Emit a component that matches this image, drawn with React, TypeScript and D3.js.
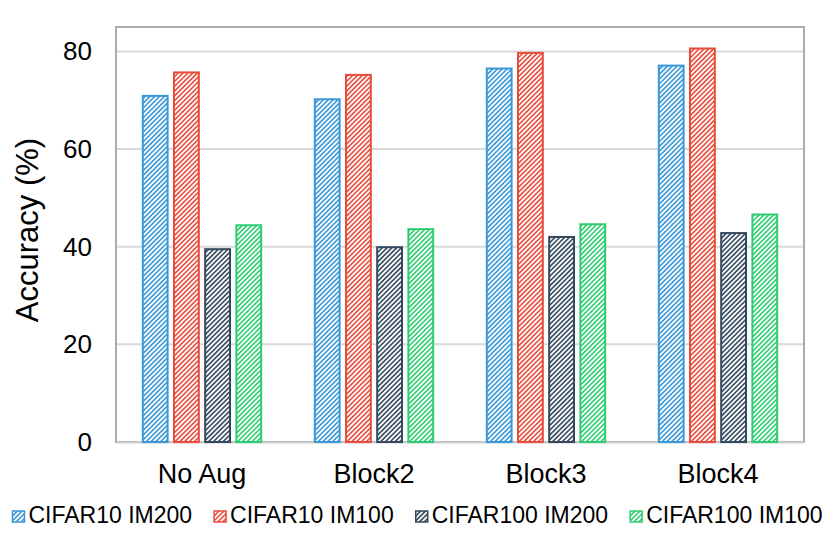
import * as d3 from "d3";
import { useRef, useEffect } from "react";

const categories = ["No Aug", "Block2", "Block3", "Block4"];
const seriesNames = ["CIFAR10 IM200", "CIFAR10 IM100", "CIFAR100 IM200", "CIFAR100 IM100"];
const seriesColors = ["#3a97d8", "#e74c3c", "#34495e", "#2ecc71"];
const cifar10im200 = [71.1, 70.4, 76.7, 77.3];
const cifar10im100 = [75.9, 75.4, 79.9, 80.8];
const cifar100im200 = [39.7, 40.1, 42.2, 43.0];
const cifar100im100 = [44.6, 43.8, 44.8, 46.8];
const yTicks = [0, 20, 40, 60, 80];

export default function App({
  width = 830,
  height = 535,
  marginTop = 27,
  marginRight = 26,
  marginBottom = 93,
  marginLeft = 116,
}) {
  const svgRef = useRef(null);

  useEffect(() => {
    const svg = d3.select(svgRef.current);
    svg.selectAll("*").remove();
    svg.attr("width", width).attr("height", height).attr("viewBox", [0, 0, width, height]);

    const font = "'Liberation Sans', Arial, sans-serif";
    const values = [cifar10im200, cifar10im100, cifar100im200, cifar100im100];
    const rows = categories.map((c, i) => ({ cat: c, vals: values.map(v => v[i]) }));

    const x0 = d3.scaleBand()
      .domain(categories)
      .range([marginLeft, width - marginRight])
      .paddingInner(0.3)
      .paddingOuter(0.15);

    const x1 = d3.scaleBand()
      .domain(d3.range(seriesNames.length))
      .range([0, x0.bandwidth()])
      .paddingInner(0.14);

    const y = d3.scaleLinear()
      .domain([0, 85])
      .range([height - marginBottom, marginTop]);

    // hatch patterns (wide upward diagonal)
    const defs = svg.append("defs");
    seriesColors.forEach((c, i) => {
      const p = defs.append("pattern")
        .attr("id", `hatch${i}`)
        .attr("patternUnits", "userSpaceOnUse")
        .attr("width", 3.4)
        .attr("height", 3.4)
        .attr("patternTransform", "rotate(45)");
      p.append("rect").attr("width", 3.4).attr("height", 3.4).attr("fill", c);
      p.append("rect").attr("width", 1.8).attr("height", 3.4).attr("fill", "#fff");
    });

    // gridlines
    svg.append("g")
      .selectAll("line")
      .data(yTicks.filter(t => t > 0))
      .join("line")
        .attr("x1", marginLeft)
        .attr("x2", width - marginRight)
        .attr("y1", d => y(d))
        .attr("y2", d => y(d))
        .attr("stroke", "#d9d9d9")
        .attr("stroke-width", 2);

    // frame
    svg.append("rect")
      .attr("x", marginLeft)
      .attr("y", marginTop)
      .attr("width", width - marginRight - marginLeft)
      .attr("height", y(0) - marginTop)
      .attr("fill", "none")
      .attr("stroke", "#ababab")
      .attr("stroke-width", 2);

    // y axis labels
    svg.append("g")
      .attr("transform", `translate(${marginLeft},0)`)
      .call(d3.axisLeft(y).tickValues(yTicks).tickSize(0).tickPadding(24))
      .call(g => g.select(".domain").remove())
      .selectAll("text")
        .attr("fill", "#000")
        .style("font-family", font)
        .style("font-size", "26px");

    // x axis
    svg.append("g")
      .attr("transform", `translate(0,${y(0)})`)
      .call(d3.axisBottom(x0).tickSize(0).tickPadding(22))
      .call(g => g.select(".domain").attr("stroke", "#d0d0d0").attr("stroke-width", 2))
      .selectAll("text")
        .attr("fill", "#000")
        .style("font-family", font)
        .style("font-size", "27px");

    // bars
    svg.append("g")
      .selectAll("g")
      .data(rows)
      .join("g")
        .attr("transform", d => `translate(${x0(d.cat)},0)`)
      .selectAll("rect")
      .data(d => d.vals.map((v, i) => ({ v, i })))
      .join("rect")
        .attr("x", d => x1(d.i) + 1)
        .attr("y", d => y(d.v) + 1)
        .attr("width", x1.bandwidth() - 2)
        .attr("height", d => y(0) - y(d.v) - 1)
        .attr("fill", d => `url(#hatch${d.i})`)
        .attr("stroke", d => seriesColors[d.i])
        .attr("stroke-width", 2);

    // y title
    svg.append("text")
      .attr("transform", `translate(38,230) rotate(-90)`)
      .attr("text-anchor", "middle")
      .style("font-family", font)
      .style("font-size", "31px")
      .text("Accuracy (%)");

    // legend
    const legend = svg.append("g").attr("transform", `translate(0,523)`);
    const items = legend.selectAll("g")
      .data(seriesNames)
      .join("g");
    items.append("rect")
      .attr("x", 1)
      .attr("y", -12)
      .attr("width", 12)
      .attr("height", 11)
      .attr("fill", (d, i) => `url(#hatch${i})`)
      .attr("stroke", (d, i) => seriesColors[i])
      .attr("stroke-width", 1.5);
    items.append("text")
      .attr("x", 17)
      .style("font-family", font)
      .style("font-size", "23px")
      .text(d => d);

    const widths = [];
    items.each(function () {
      widths.push(17 + d3.select(this).select("text").node().getComputedTextLength());
    });
    const gap = 21;
    const total = d3.sum(widths) + gap * (widths.length - 1);
    let cx = 417 - total / 2;
    items.attr("transform", (d, i) => {
      const t = `translate(${cx},0)`;
      cx += widths[i] + gap;
      return t;
    });
  }, []);

  return (
    <svg ref={svgRef} style={{ position: "absolute", left: 0, top: 0 }} />
  );
}
